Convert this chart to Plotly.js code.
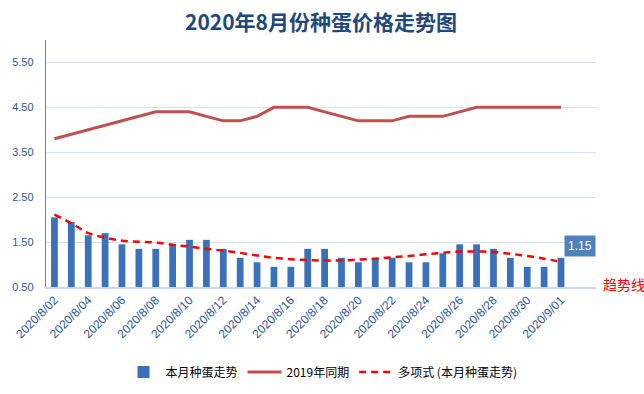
<!DOCTYPE html>
<html>
<head>
<meta charset="utf-8">
<script src="https://cdn.plot.ly/plotly-3.0.1.min.js"></script>
<style>html,body{margin:0;padding:0;background:#fff;}#chart{width:644px;height:394px;}</style>
</head>
<body>
<div id="chart"></div>
<script>
const categories = ["2020/8/02","2020/8/03","2020/8/04","2020/8/05","2020/8/06","2020/8/07","2020/8/08","2020/8/09","2020/8/10","2020/8/11","2020/8/12","2020/8/13","2020/8/14","2020/8/15","2020/8/16","2020/8/17","2020/8/18","2020/8/19","2020/8/20","2020/8/21","2020/8/22","2020/8/23","2020/8/24","2020/8/25","2020/8/26","2020/8/27","2020/8/28","2020/8/29","2020/8/30","2020/8/31","2020/9/01"];
const thisMonth = [2.05,1.95,1.65,1.70,1.45,1.35,1.35,1.45,1.55,1.55,1.35,1.15,1.05,0.95,0.95,1.35,1.35,1.15,1.05,1.15,1.15,1.05,1.05,1.25,1.45,1.45,1.35,1.15,0.95,0.95,1.15];
const lastYear = [3.8,3.9,4.0,4.1,4.2,4.3,4.4,4.4,4.4,4.3,4.2,4.2,4.3,4.5,4.5,4.5,4.4,4.3,4.2,4.2,4.2,4.3,4.3,4.3,4.4,4.5,4.5,4.5,4.5,4.5,4.5];
const trend = [2.11,1.92,1.70,1.60,1.53,1.51,1.49,1.44,1.40,1.35,1.31,1.26,1.20,1.15,1.12,1.10,1.09,1.09,1.11,1.13,1.16,1.19,1.23,1.26,1.29,1.29,1.28,1.24,1.19,1.13,1.06];
const yTicks = [0.5,1.5,2.5,3.5,4.5,5.5];
const xTicks = categories.filter((c,i)=>i%2===0);
const names = ["本月种蛋走势","2019年同期","多项式 (本月种蛋走势)"];
const titleText = "2020年8月份种蛋价格走势图";
const lastLabel = "1.15";
const trendLabel = "趋势线";

const cjk = '"Noto Sans CJK SC", "Liberation Sans", sans-serif';
const traces = [
  {type:'bar', x:categories, y:thisMonth, name:names[0], width:0.4,
   marker:{color:'#3a71ba', line:{width:0}}},
  {type:'scatter', mode:'lines', x:categories, y:lastYear, name:names[1],
   line:{color:'#c0504d', width:3}},
  {type:'scatter', mode:'lines', x:categories, y:trend, name:names[2],
   line:{color:'#ff0000', width:2.5, dash:'7px,5px', shape:'spline'}}
];
const layout = {
  width:644, height:394,
  margin:{l:46, r:48, t:40, b:107},
  paper_bgcolor:'#ffffff', plot_bgcolor:'#ffffff',
  font:{family:cjk, size:12, color:'#000'},
  title:{text:titleText, x:0.5, xanchor:'center', xref:'paper', y:0.942, yref:'container', yanchor:'middle',
         font:{family:cjk, size:21, color:'#1f497d', weight:'bold'}},
  showlegend:true,
  legend:{orientation:'h', x:0.5, xanchor:'center', xref:'container', y:0.056, yref:'container', yanchor:'middle',
          font:{family:cjk, size:12, color:'#000'}, itemwidth:34, tracegroupgap:0},
  bargap:0.6,
  xaxis:{type:'category', tickvals:xTicks, ticktext:xTicks, tickangle:-45, automargin:false,
         tickfont:{family:'"Liberation Sans", sans-serif', size:12, color:'#2e5597'},
         showgrid:false, showline:true, linecolor:'#c9d7ea', linewidth:1.5, ticks:'', zeroline:false},
  yaxis:{range:[0.5,6.0], tickvals:yTicks, tickformat:'.2f', automargin:false,
         tickfont:{family:'"Liberation Sans", sans-serif', size:11, color:'#2e5597'},
         showgrid:true, gridcolor:'#d5e2f0', gridwidth:1, showline:true, linecolor:'#808080', linewidth:1.2,
         ticks:'', zeroline:false, ticklabelstandoff:9},
  annotations:[
    {x:categories[categories.length-1], y:thisMonth[thisMonth.length-1], xref:'x', yref:'y',
     text:lastLabel, showarrow:false, xshift:19, yshift:12,
     bgcolor:'#4f81bd', font:{family:'"Liberation Sans", sans-serif', size:12, color:'#ffffff'}, borderpad:3},
    {x:1.05, y:0.012, xref:'paper', yref:'paper', text:trendLabel, showarrow:false,
     xanchor:'center', yanchor:'middle', font:{family:cjk, size:14, color:'#ff0000'}}
  ]
};
Plotly.newPlot('chart', traces, layout, {staticPlot:true, displayModeBar:false});
</script>
</body>
</html>
